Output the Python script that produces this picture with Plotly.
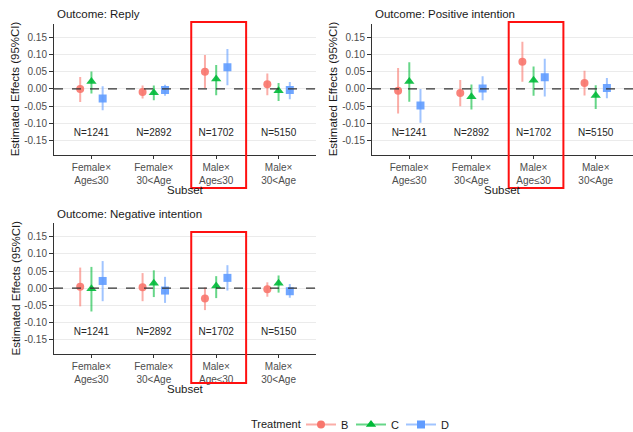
import plotly.graph_objects as go

# Subsets on the x axis and treatment arms
subsets = ["Female×<br>Age≤30", "Female×<br>30<Age", "Male×<br>Age≤30", "Male×<br>30<Age"]
sample_sizes = ["N=1241", "N=2892", "N=1702", "N=5150"]
treatments = ["B", "C", "D"]
outcomes = ["Outcome: Reply", "Outcome: Positive intention", "Outcome: Negative intention"]

# Point estimates and 95% CI bounds, per outcome, per treatment (one value per subset)
reply_est = {"B": [0.000, -0.009, 0.050, 0.014], "C": [0.022, -0.011, 0.029, -0.005], "D": [-0.028, -0.003, 0.063, -0.003]}
reply_lo = {"B": [-0.038, -0.028, 0.003, -0.018], "C": [-0.013, -0.033, -0.018, -0.035], "D": [-0.062, -0.020, 0.011, -0.030]}
reply_hi = {"B": [0.035, 0.010, 0.099, 0.045], "C": [0.051, 0.010, 0.070, 0.017], "D": [0.008, 0.012, 0.116, 0.020]}

pos_est = {"B": [-0.005, -0.012, 0.079, 0.017], "C": [0.022, -0.023, 0.025, -0.019], "D": [-0.048, 0.001, 0.034, 0.003]}
pos_lo = {"B": [-0.071, -0.050, 0.021, -0.019], "C": [-0.037, -0.060, -0.020, -0.058], "D": [-0.098, -0.033, -0.022, -0.027]}
pos_hi = {"B": [0.061, 0.026, 0.137, 0.053], "C": [0.078, 0.013, 0.065, 0.011], "D": [0.000, 0.037, 0.088, 0.032]}

neg_est = {"B": [0.004, 0.003, -0.030, -0.003], "C": [-0.002, 0.014, 0.006, 0.014], "D": [0.021, -0.007, 0.030, -0.009]}
neg_lo = {"B": [-0.053, -0.038, -0.064, -0.025], "C": [-0.068, -0.026, -0.029, -0.013], "D": [-0.038, -0.043, -0.007, -0.028]}
neg_hi = {"B": [0.060, 0.044, 0.002, 0.017], "C": [0.062, 0.052, 0.035, 0.037], "D": [0.079, 0.033, 0.067, 0.012]}

n_label_y = -0.13
y_ticks = [-0.15, -0.10, -0.05, 0.00, 0.05, 0.10, 0.15]

colors = {"B": "#F8766D", "C": "#00BA38", "D": "#619CFF"}
faded = {"B": "rgba(248,118,109,0.6)", "C": "rgba(0,186,56,0.6)", "D": "rgba(97,156,255,0.6)"}
symbols = {"B": "circle", "C": "triangle-up", "D": "square"}
msize = {"B": 8, "C": 9, "D": 8}
dodge = {"B": -0.18, "C": 0.0, "D": 0.18}

W, H = 633, 432
# panel layout: (x domain, y domain) in paper units
panels = [
    ((54 / W, 316 / W), (1 - 155 / H, 1 - 23.6 / H)),
    ((372 / W, 1.0), (1 - 155 / H, 1 - 23.6 / H)),
    ((54 / W, 316 / W), (1 - 354 / H, 1 - 223 / H)),
]
data_sets = [(reply_est, reply_lo, reply_hi), (pos_est, pos_lo, pos_hi), (neg_est, neg_lo, neg_hi)]

FONT = "Liberation Sans, Arial, sans-serif"
fig = go.Figure()
layout = dict(
    width=W, height=H, margin=dict(l=0, r=0, t=0, b=0, autoexpand=False),
    paper_bgcolor="white", plot_bgcolor="white",
    font=dict(family=FONT, size=10, color="#4D4D4D"),
    showlegend=True,
)
shapes, annotations = [], []

for i, ((xd, yd), (est, lo, hi)) in enumerate(zip(panels, data_sets)):
    k = "" if i == 0 else str(i + 1)
    xa, ya = "x" + k, "y" + k
    for t in treatments:
        xs = [j + dodge[t] for j in range(len(subsets))]
        fig.add_trace(go.Scatter(
            x=xs, y=est[t], mode="markers", xaxis=xa, yaxis=ya, showlegend=False,
            marker=dict(symbol=symbols[t], size=msize[t], color=colors[t], opacity=0.9),
            error_y=dict(type="data", symmetric=False,
                         array=[h - e for h, e in zip(hi[t], est[t])],
                         arrayminus=[e - l for e, l in zip(est[t], lo[t])],
                         width=0, thickness=2, color=faded[t]),
            hoverinfo="skip",
        ))
    # sample size labels
    fig.add_trace(go.Scatter(
        x=list(range(len(subsets))), y=[n_label_y] * len(subsets), mode="text",
        text=sample_sizes, textfont=dict(size=10, color="#262626", family=FONT),
        xaxis=xa, yaxis=ya, showlegend=False, hoverinfo="skip",
    ))
    layout["xaxis" + k] = dict(
        domain=list(xd), anchor=ya, range=[-0.6, 3.6], tickvals=list(range(len(subsets))),
        ticktext=subsets, showgrid=False, zeroline=False, showline=True, linecolor="#333333",
        linewidth=1, ticks="outside", ticklen=3, tickcolor="#333333",
        tickfont=dict(size=10, color="#4D4D4D"),
    )
    layout["yaxis" + k] = dict(
        domain=list(yd), anchor=xa, range=[-0.192, 0.19], tickvals=y_ticks,
        ticktext=[f"{v:.2f}" for v in y_ticks], showgrid=True, gridcolor="#EBEBEB", gridwidth=1,
        zeroline=False, showline=True, linecolor="#333333", linewidth=1,
        ticks="outside", ticklen=4, tickcolor="#333333", tickfont=dict(size=10, color="#4D4D4D"),
    )
    # dashed reference line at zero
    shapes.append(dict(type="line", xref=xa + " domain", yref=ya, x0=0, x1=1, y0=0, y1=0,
                       line=dict(color="#333333", width=1.2, dash="dash")))
    # highlight box around the Male×Age≤30 subset
    shapes.append(dict(type="rect", xref=xa, yref="paper", x0=1.6, x1=2.48,
                       y0=yd[0] - (33 if i < 2 else 29) / H, y1=yd[1] + (1.6 if i < 2 else -9) / H,
                       line=dict(color="#FF1010", width=2), fillcolor="rgba(0,0,0,0)"))
    # panel title
    annotations.append(dict(text=outcomes[i], xref="paper", yref="paper", x=xd[0] + 1 / W,
                            y=yd[1] + 9.5 / H, xanchor="left", yanchor="middle", showarrow=False,
                            font=dict(size=11.5, color="#1A1A1A", family=FONT)))
    # axis titles
    annotations.append(dict(text="Subset", xref="paper", yref="paper", x=(xd[0] + xd[1]) / 2 if i != 1 else (372 + 262 / 2) / W,
                            y=yd[0] - 35 / H, xanchor="center", yanchor="middle", showarrow=False,
                            font=dict(size=11.5, color="#1A1A1A", family=FONT)))
    annotations.append(dict(text="Estimated Effects (95%CI)", xref="paper", yref="paper",
                            x=xd[0] - 39 / W, y=(yd[0] + yd[1]) / 2, textangle=-90,
                            xanchor="center", yanchor="middle", showarrow=False,
                            font=dict(size=11.5, color="#1A1A1A", family=FONT)))

# legend title, placed just left of the legend box
annotations.append(dict(text="Treatment", xref="paper", yref="paper", x=303 / W, y=8 / H,
                        xanchor="right", yanchor="middle", showarrow=False,
                        font=dict(size=11, color="#1A1A1A", family=FONT)))

# legend entries
for t in treatments:
    fig.add_trace(go.Scatter(
        x=[None], y=[None], mode="lines+markers", name=t,
        line=dict(color=faded[t], width=2),
        marker=dict(symbol=symbols[t], size=msize[t], color=colors[t]),
    ))

layout.update(
    shapes=shapes, annotations=annotations,
    legend=dict(orientation="h", x=301 / W, xanchor="left", y=-7 / H, yanchor="bottom",
                font=dict(size=11, color="#1A1A1A"), itemwidth=30, entrywidth=5,
                bgcolor="rgba(0,0,0,0)"),
)
fig.update_layout(**layout)
fig.write_html("out.html")
